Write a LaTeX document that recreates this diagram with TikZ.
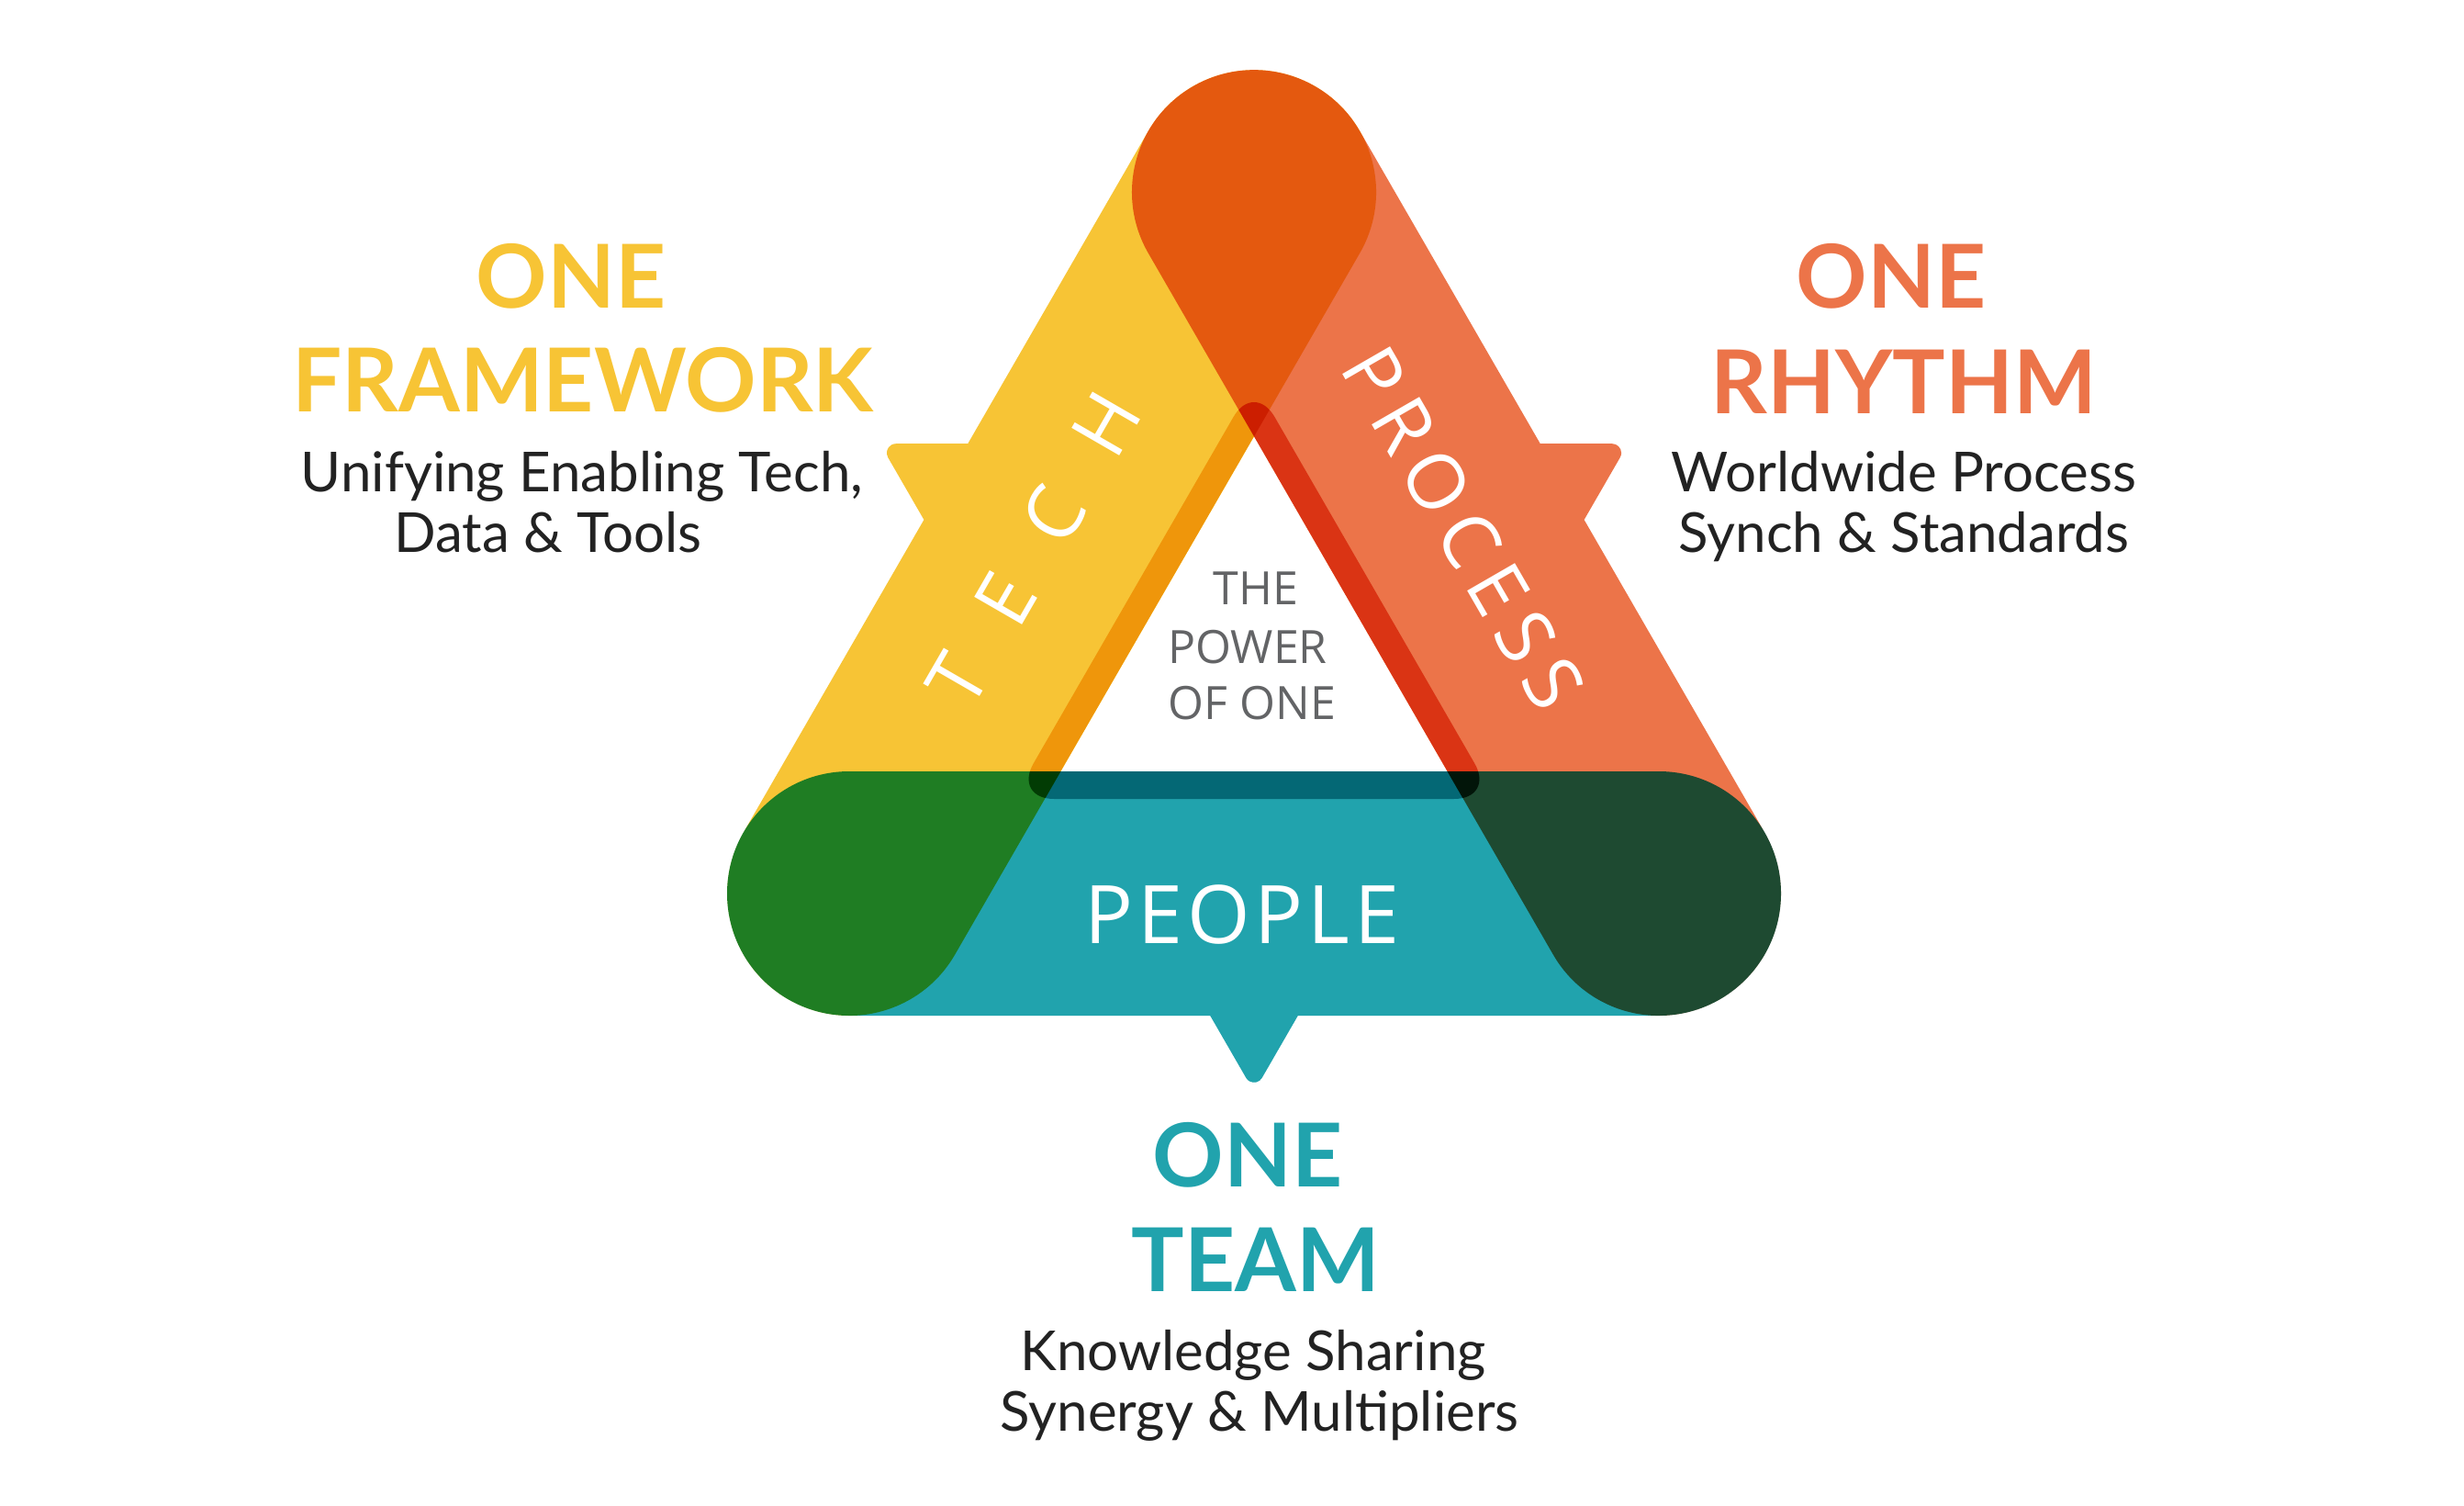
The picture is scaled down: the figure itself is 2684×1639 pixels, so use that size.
\documentclass[tikz,border=0pt]{standalone}
\usepackage{fontspec}
\setmainfont{Lato}
\newfontfamily\osans{Open Sans}
\newfontfamily\osanstech[LetterSpace=66.7]{Open Sans}
\newfontfamily\osansproc[LetterSpace=15.5]{Open Sans}
\newfontfamily\osanspeop[LetterSpace=5.7]{Open Sans}
\definecolor{cyel}{HTML}{F7C435}
\definecolor{corg}{HTML}{EC7449}
\definecolor{cteal}{HTML}{21A3AD}
\definecolor{cgray}{HTML}{636466}
\definecolor{ctext}{HTML}{222222}
\newcommand\bandshape{%
  (-441,121.6) -- (441,121.6) arc[start angle=-90,end angle=90,radius=133]
  -- (47.8,387.6) -- (8.66,455.4) arc[start angle=30,end angle=150,radius=10]
  -- (-47.8,387.6) -- (-441,387.6) arc[start angle=90,end angle=270,radius=133] -- cycle}
\newcommand\ringshape{%
  [rounded corners=45pt] (0,-303.2) -- (262.6,151.6) -- (-262.6,151.6) -- cycle}
\begin{document}
\begin{tikzpicture}[x=1pt,y=-1pt,
  mult/.style={fill=#1,blend mode=multiply},
  headtxt/.style={font=\fontsize{96}{96}\selectfont\bfseries,anchor=base,inner sep=0pt},
  bodytxt/.style={font=\fontsize{60}{60}\selectfont,text=ctext,anchor=base,inner sep=0pt},
  centtxt/.style={font=\osans\fontsize{50}{50}\selectfont,text=cgray,anchor=base,inner sep=0pt},
  bandtxt/.style={text=white,inner sep=0pt}]
\fill[white] (0,0) rectangle (2684,1639);
\useasboundingbox (0,0) rectangle (2684,1639);
% bands
\foreach \ang/\col in {0/cteal,-120/cyel,120/corg}{
  \begin{scope}[shift={(1366,718.4)},rotate=\ang]
    \fill[mult=\col] \bandshape;
    \begin{scope}
      \clip (-700,121.6) rectangle (700,700);
      \fill[mult=\col] \ringshape;
    \end{scope}
  \end{scope}
}
% band labels
\node[bandtxt,rotate=60,font=\osanstech\fontsize{84}{84}\selectfont] (tech) at (1126,598) {TECH\hspace{-56pt}};
\node[bandtxt,rotate=-60,font=\osansproc\fontsize{84}{84}\selectfont] (process) at (1594,575) {PROCESS\hspace{-13pt}};
\node[bandtxt,font=\osanspeop\fontsize{88}{88}\selectfont,anchor=base] (people) at (1353,1027) {PEOPLE\hspace{-5pt}};
% centre
\node[centtxt] (c1) at (1368,658) {THE};
\node[centtxt] (c2) at (1359,722) {POWER};
\node[centtxt] (c3) at (1364,783) {OF ONE};
% left
\node[headtxt,text=cyel] (l1) at (622,335) {ONE};
\node[headtxt,text=cyel] (l2) at (635,448) {FRAMEWORK};
\node[bodytxt] (l3) at (634,535) {Unifying Enabling Tech,};
\node[bodytxt] (l4) at (597,601.7) {Data \& Tools};
% right
\node[headtxt,text=corg] (r1) at (2060,335) {ONE};
\node[headtxt,text=corg] (r2) at (2074,450) {RHYTHM};
\node[bodytxt] (r3) at (2074,535) {Worldwide Process};
\node[bodytxt] (r4) at (2074,601.7) {Synch \& Standards};
% bottom
\node[headtxt,text=cteal] (b1) at (1359,1292) {ONE};
\node[headtxt,text=cteal] (b2) at (1368,1406) {TEAM};
\node[bodytxt] (b3) at (1365,1492) {Knowledge Sharing};
\node[bodytxt] (b4) at (1372,1558) {Synergy \& Multipliers};
\end{tikzpicture}
\end{document}
